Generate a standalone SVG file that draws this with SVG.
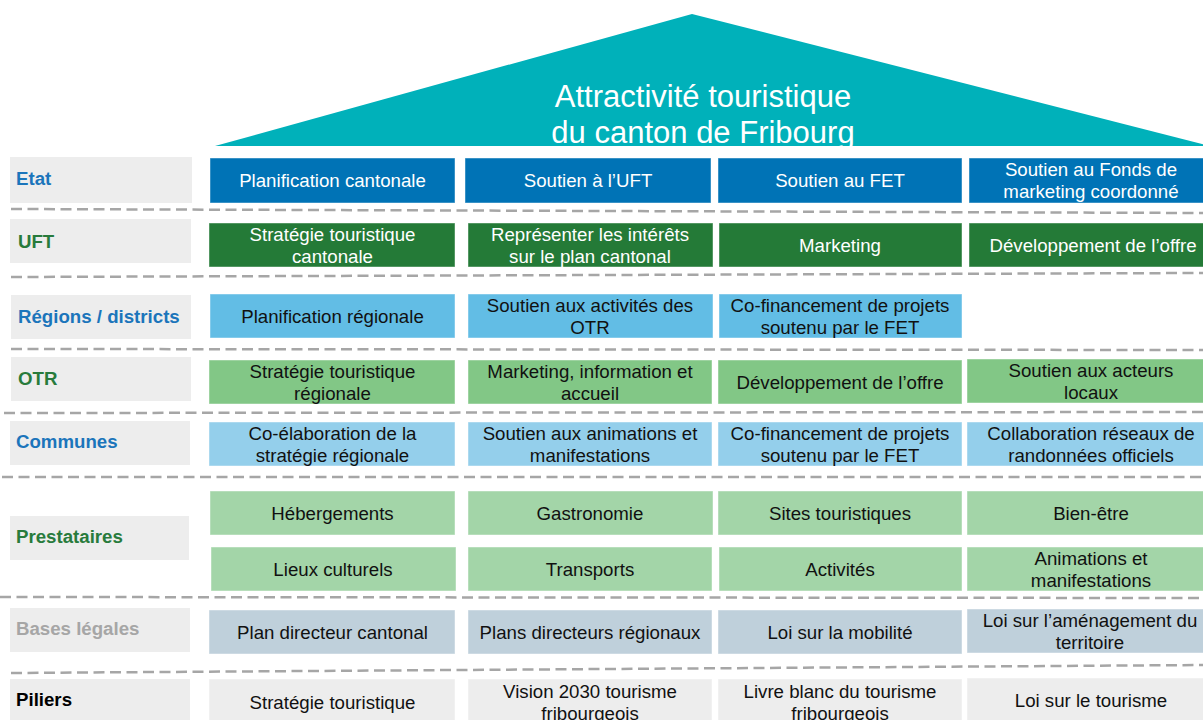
<svg xmlns="http://www.w3.org/2000/svg" width="1203" height="720" viewBox="0 0 1203 720">
<style>
text{font-family:"Liberation Sans",Arial,sans-serif;font-size:18.67px;text-anchor:middle}
.lbl{text-anchor:start;font-weight:bold}
.lb{fill:#EDEDED}
.bx{stroke:#ffffff;stroke-opacity:0.45;stroke-width:1}
.etat{fill:#0073B6}
.uft{fill:#247A37}
.reg{fill:#62BDE5}
.otr{fill:#82C786}
.com{fill:#94CFEB}
.pre{fill:#A3D5A8}
.bas{fill:#BFD0DB}
.pil{fill:#EDEDED}
.w{fill:#ffffff}
.k{fill:#111111}
.blue{fill:#1B75BB}
.green{fill:#287B3C}
.dash{stroke:#A6A6A6;stroke-width:2.5;stroke-dasharray:11 5.5;fill:none}
</style>
<rect width="1203" height="720" fill="#ffffff"/>
<g id="roof">
<polygon points="215,146 692,14 1210,146" fill="#00B1BA"/>
<text x="703" y="107" class="w" style="font-size:31px">Attractivité touristique</text>
<text x="703" y="143" class="w" style="font-size:31px">du canton de Fribourg</text>
</g>
<g id="connectors">
<line class="dash" x1="11" y1="209" x2="1203" y2="213"/>
<line class="dash" x1="11" y1="277" x2="1203" y2="273"/>
<line class="dash" x1="11" y1="349" x2="1203" y2="350"/>
<line class="dash" x1="4" y1="413" x2="1203" y2="412"/>
<line class="dash" x1="2" y1="477" x2="1203" y2="477"/>
<line class="dash" x1="0" y1="597" x2="1203" y2="598"/>
<line class="dash" x1="11" y1="673" x2="1203" y2="665"/>
</g>
<g id="row-etat">
<rect class="lb" x="10" y="157" width="182" height="46"/>
<text class="lbl blue" x="16" y="185">Etat</text>
<rect class="bx etat" x="210" y="158" width="245" height="45"/>
<text class="w" x="332.5" y="187">Planification cantonale</text>
<rect class="bx etat" x="465" y="158" width="246" height="45"/>
<text class="w" x="588" y="187">Soutien à l’UFT</text>
<rect class="bx etat" x="718" y="158" width="244" height="45"/>
<text class="w" x="840" y="187">Soutien au FET</text>
<rect class="bx etat" x="969" y="158" width="245" height="45"/>
<text class="w" x="1091" y="176">Soutien au Fonds de</text>
<text class="w" x="1091" y="198">marketing coordonné</text>
</g>
<g id="row-uft">
<rect class="lb" x="10" y="219" width="181" height="44"/>
<text class="lbl green" x="18" y="247.5">UFT</text>
<rect class="bx uft" x="209" y="223" width="246" height="44"/>
<text class="w" x="332.5" y="240.5">Stratégie touristique</text>
<text class="w" x="332.5" y="262.5">cantonale</text>
<rect class="bx uft" x="468" y="223" width="245" height="44"/>
<text class="w" x="590" y="240.5">Représenter les intérêts</text>
<text class="w" x="590" y="262.5">sur le plan cantonal</text>
<rect class="bx uft" x="719" y="223" width="243" height="44"/>
<text class="w" x="840" y="251.5">Marketing</text>
<rect class="bx uft" x="969" y="223" width="245" height="44"/>
<text class="w" x="1093" y="251.5">Développement de l’offre</text>
</g>
<g id="row-regions">
<rect class="lb" x="11" y="295" width="180" height="44"/>
<text class="lbl blue" x="18" y="323">Régions / districts</text>
<rect class="bx reg" x="210" y="294" width="245" height="44"/>
<text class="k" x="332.5" y="322.5">Planification régionale</text>
<rect class="bx reg" x="468" y="294" width="245" height="44"/>
<text class="k" x="590" y="311.5">Soutien aux activités des</text>
<text class="k" x="590" y="333.5">OTR</text>
<rect class="bx reg" x="719" y="294" width="243" height="44"/>
<text class="k" x="840" y="311.5">Co-financement de projets</text>
<text class="k" x="840" y="333.5">soutenu par le FET</text>
</g>
<g id="row-otr">
<rect class="lb" x="11" y="357" width="180" height="44"/>
<text class="lbl green" x="18" y="385">OTR</text>
<rect class="bx otr" x="209" y="360" width="246" height="44"/>
<text class="k" x="332.5" y="377.5">Stratégie touristique</text>
<text class="k" x="332.5" y="399.5">régionale</text>
<rect class="bx otr" x="468" y="360" width="244" height="44"/>
<text class="k" x="590" y="377.5">Marketing, information et</text>
<text class="k" x="590" y="399.5">accueil</text>
<rect class="bx otr" x="718" y="360" width="244" height="44"/>
<text class="k" x="840" y="388.5">Développement de l’offre</text>
<rect class="bx otr" x="967" y="359" width="247" height="44"/>
<text class="k" x="1091" y="376.5">Soutien aux acteurs</text>
<text class="k" x="1091" y="398.5">locaux</text>
</g>
<g id="row-communes">
<rect class="lb" x="10" y="421" width="180" height="44"/>
<text class="lbl blue" x="16" y="448">Communes</text>
<rect class="bx com" x="209" y="422" width="246" height="44"/>
<text class="k" x="332.5" y="439.5">Co-élaboration de la</text>
<text class="k" x="332.5" y="461.5">stratégie régionale</text>
<rect class="bx com" x="468" y="422" width="244" height="44"/>
<text class="k" x="590" y="439.5">Soutien aux animations et</text>
<text class="k" x="590" y="461.5">manifestations</text>
<rect class="bx com" x="718" y="422" width="244" height="44"/>
<text class="k" x="840" y="439.5">Co-financement de projets</text>
<text class="k" x="840" y="461.5">soutenu par le FET</text>
<rect class="bx com" x="967" y="422" width="247" height="44"/>
<text class="k" x="1091" y="439.5">Collaboration réseaux de</text>
<text class="k" x="1091" y="461.5">randonnées officiels</text>
</g>
<g id="row-prestataires">
<rect class="lb" x="10" y="516" width="179" height="44"/>
<text class="lbl green" x="16" y="543">Prestataires</text>
<rect class="bx pre" x="210" y="491" width="245" height="44"/>
<text class="k" x="332.5" y="519.5">Hébergements</text>
<rect class="bx pre" x="468" y="491" width="245" height="44"/>
<text class="k" x="590" y="519.5">Gastronomie</text>
<rect class="bx pre" x="718" y="491" width="244" height="44"/>
<text class="k" x="840" y="519.5">Sites touristiques</text>
<rect class="bx pre" x="967" y="491" width="247" height="44"/>
<text class="k" x="1091" y="519.5">Bien-être</text>
<rect class="bx pre" x="211" y="547" width="245" height="44"/>
<text class="k" x="333" y="575.5">Lieux culturels</text>
<rect class="bx pre" x="468" y="547" width="244" height="44"/>
<text class="k" x="590" y="575.5">Transports</text>
<rect class="bx pre" x="719" y="547" width="243" height="44"/>
<text class="k" x="840" y="575.5">Activités</text>
<rect class="bx pre" x="967" y="547" width="247" height="44"/>
<text class="k" x="1091" y="564.5">Animations et</text>
<text class="k" x="1091" y="586.5">manifestations</text>
</g>
<g id="row-bases">
<rect class="lb" x="10" y="608" width="180" height="44"/>
<text class="lbl" x="16" y="634.5" style="fill:#A6A6A6">Bases légales</text>
<rect class="bx bas" x="209" y="610" width="246" height="44"/>
<text class="k" x="332.5" y="638.5">Plan directeur cantonal</text>
<rect class="bx bas" x="468" y="610" width="244" height="44"/>
<text class="k" x="590" y="638.5">Plans directeurs régionaux</text>
<rect class="bx bas" x="718" y="610" width="244" height="44"/>
<text class="k" x="840" y="638.5">Loi sur la mobilité</text>
<rect class="bx bas" x="967" y="609" width="247" height="44"/>
<text class="k" x="1090" y="626.5">Loi sur l’aménagement du</text>
<text class="k" x="1090" y="648.5">territoire</text>
</g>
<g id="row-piliers">
<rect class="lb" x="10" y="679" width="180" height="46"/>
<text class="lbl" x="16" y="706" style="fill:#000000">Piliers</text>
<rect class="bx pil" x="209" y="679" width="246" height="46"/>
<text class="k" x="332.5" y="708.5">Stratégie touristique</text>
<rect class="bx pil" x="468" y="679" width="244" height="46"/>
<text class="k" x="590" y="697.5">Vision 2030 tourisme</text>
<text class="k" x="590" y="719.5">fribourgeois</text>
<rect class="bx pil" x="718" y="679" width="244" height="46"/>
<text class="k" x="840" y="697.5">Livre blanc du tourisme</text>
<text class="k" x="840" y="719.5">fribourgeois</text>
<rect class="bx pil" x="967" y="678" width="247" height="47"/>
<text class="k" x="1091" y="707">Loi sur le tourisme</text>
</g>
</svg>
